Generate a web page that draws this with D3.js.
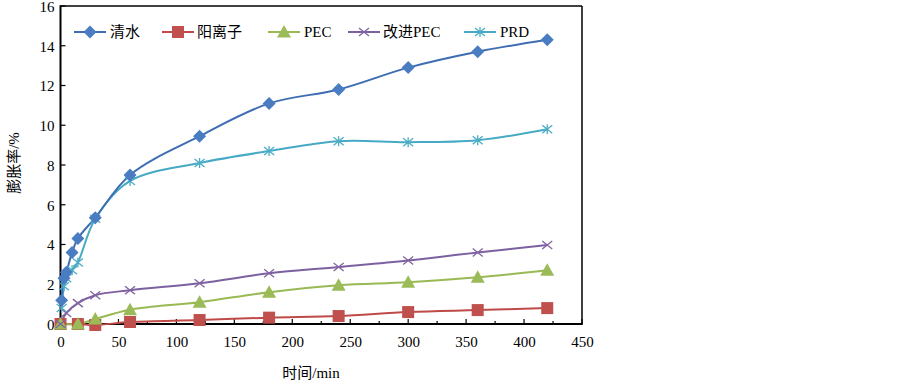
<!DOCTYPE html>
<html><head><meta charset="utf-8">
<script src="https://cdn.jsdelivr.net/npm/d3@7"></script>
<style>
body{margin:0;background:#fff;}
text{font-family:"Liberation Serif","Times New Roman","Noto Sans CJK SC",serif;}
</style></head>
<body><svg id="c" width="903" height="386"></svg>
<script>
// ---- data ----
const seriesNames = ["清水","阳离子","PEC","改进PEC","PRD"];
const tQingshui = [1,3,5,10,15,30,60,120,180,240,300,360,420];
const vQingshui = [1.2,2.3,2.6,3.6,4.3,5.35,7.5,9.45,11.1,11.8,12.9,13.7,14.3];
const tCation = [0,15,30,60,120,180,240,300,360,420];
const vCation = [0,0,-0.05,0.1,0.2,0.32,0.4,0.6,0.7,0.8];
const tPEC = [0,15,30,60,120,180,240,300,360,420];
const vPEC = [0,0,0.25,0.72,1.1,1.6,1.95,2.1,2.35,2.7];
const tPECmod = [0,5,15,30,60,120,180,240,300,360,420];
const vPECmod = [0,0.55,1.05,1.45,1.7,2.05,2.55,2.87,3.2,3.6,3.97];
const tPRD = [1,3,5,10,15,30,60,120,180,240,300,360,420];
const vPRD = [0.8,1.9,2.3,2.7,3.1,5.3,7.2,8.1,8.7,9.2,9.15,9.25,9.8];
const xTicks = [0,50,100,150,200,250,300,350,400,450];
const yTicks = [0,2,4,6,8,10,12,14,16];
const xLabel = "时间/min";
const yLabel = "膨胀率/%";

const seriesData = [
  {name:seriesNames[0], t:tQingshui, v:vQingshui, color:"#3E6DB3", mcolor:"#4A7CC2", marker:"diamond"},
  {name:seriesNames[1], t:tCation, v:vCation, color:"#BE4B48", mcolor:"#C0504D", marker:"square"},
  {name:seriesNames[2], t:tPEC, v:vPEC, color:"#98B954", mcolor:"#9BBB59", marker:"triangle"},
  {name:seriesNames[3], t:tPECmod, v:vPECmod, color:"#7D60A0", mcolor:"#8064A2", marker:"x"},
  {name:seriesNames[4], t:tPRD, v:vPRD, color:"#46AAC5", mcolor:"#4BACC6", marker:"star"}
];

// ---- layout ----
const svg = d3.select("#c");
const L = 60.5, R = 582, T = 6, B = 324;
const x = d3.scaleLinear().domain([0,450]).range([L,R]);
const y = d3.scaleLinear().domain([0,16]).range([B,T]);

function drawMarker(g, type, cx, cy, fill){
  if(type==="diamond"){
    g.append("path").attr("d",`M${cx},${cy-6.5}L${cx+6.5},${cy}L${cx},${cy+6.5}L${cx-6.5},${cy}Z`).attr("fill",fill);
  } else if(type==="square"){
    g.append("rect").attr("x",cx-6).attr("y",cy-6).attr("width",12).attr("height",12).attr("fill",fill);
  } else if(type==="triangle"){
    g.append("path").attr("d",`M${cx},${cy-7}L${cx+7},${cy+5.5}L${cx-7},${cy+5.5}Z`).attr("fill",fill);
  } else if(type==="x"){
    g.append("path").attr("d",`M${cx-5},${cy-4}L${cx+5},${cy+4}M${cx-5},${cy+4}L${cx+5},${cy-4}`).attr("stroke",fill).attr("stroke-width",1.3).attr("fill","none");
  } else if(type==="star"){
    g.append("path").attr("d",`M${cx-5},${cy-4}L${cx+5},${cy+4}M${cx-5},${cy+4}L${cx+5},${cy-4}M${cx},${cy-5}L${cx},${cy+5}`).attr("stroke",fill).attr("stroke-width",1.3).attr("fill","none");
  }
}

// x ticks (inside)
const gx = svg.append("g").attr("transform",`translate(0,${B})`);
d3.range(0,451,25).forEach(v=>{
  const major = v%50===0;
  gx.append("line").attr("x1",x(v)).attr("x2",x(v)).attr("y1",0).attr("y2",major?-5:-3).attr("stroke","#000").attr("stroke-width",1.2);
});
const xa = d3.axisBottom(x).tickValues(xTicks).tickSize(0).tickPadding(0);
const gxl = svg.append("g").attr("transform",`translate(0,${B+12})`).call(xa);
gxl.select(".domain").remove();
gxl.selectAll("text").attr("font-size",15).attr("fill","#000").attr("dy","0.71em")
  .style("font-family",'"Liberation Serif",serif');

// y ticks (inside)
const gy = svg.append("g");
yTicks.forEach(v=>{
  gy.append("line").attr("x1",L).attr("x2",L+5).attr("y1",y(v)).attr("y2",y(v)).attr("stroke","#000").attr("stroke-width",1.2);
});
const ya = d3.axisLeft(y).tickValues(yTicks).tickSize(0).tickPadding(0);
const gyl = svg.append("g").attr("transform",`translate(${L-6},0)`).call(ya);
gyl.select(".domain").remove();
gyl.selectAll("text").attr("font-size",15).attr("fill","#000").attr("dy","0.36em")
  .style("font-family",'"Liberation Serif",serif');

// frame
svg.append("line").attr("x1",L).attr("x2",R).attr("y1",T).attr("y2",T).attr("stroke","#000").attr("stroke-width",1.5);
svg.append("line").attr("x1",R).attr("x2",R).attr("y1",T).attr("y2",B).attr("stroke","#000").attr("stroke-width",1.5);
svg.append("line").attr("x1",L).attr("x2",L).attr("y1",T-0.75).attr("y2",B+1).attr("stroke","#000").attr("stroke-width",2);
svg.append("line").attr("x1",L).attr("x2",R+0.75).attr("y1",B).attr("y2",B).attr("stroke","#000").attr("stroke-width",2);

// series
const line = d3.line().x(d=>x(d[0])).y(d=>y(d[1])).curve(d3.curveCatmullRom.alpha(0.5));
const order = [1,2,3,4,0];
order.forEach(i=>{
  const s = seriesData[i];
  const pts = s.t.map((t,j)=>[t,s.v[j]]);
  svg.append("path").attr("d",line(pts)).attr("fill","none").attr("stroke",s.color).attr("stroke-width",2);
});
order.forEach(i=>{
  const s = seriesData[i];
  const g = svg.append("g");
  s.t.forEach((t,j)=>drawMarker(g,s.marker,x(t),y(s.v[j]),s.mcolor));
});

// legend
const legX = [74,162,268,348,464];
const legTx = [110,197,304,383,500];
const legY = 32;
seriesData.forEach((s,i)=>{
  const g = svg.append("g");
  g.append("line").attr("x1",legX[i]).attr("x2",legX[i]+32).attr("y1",legY).attr("y2",legY).attr("stroke",s.color).attr("stroke-width",2);
  drawMarker(g,s.marker,legX[i]+16,legY,s.mcolor);
  g.append("text").attr("x",legTx[i]).attr("y",legY).attr("dy","0.35em").attr("font-size",15).attr("fill","#000").text(s.name);
});

// axis titles
svg.append("text").attr("x",311).attr("y",378).attr("text-anchor","middle").attr("font-size",15).attr("fill","#000").text(xLabel);
svg.append("text").attr("transform","translate(19,163) rotate(-90)").attr("text-anchor","middle").attr("font-size",15).attr("fill","#000").text(yLabel);
</script></body></html>
